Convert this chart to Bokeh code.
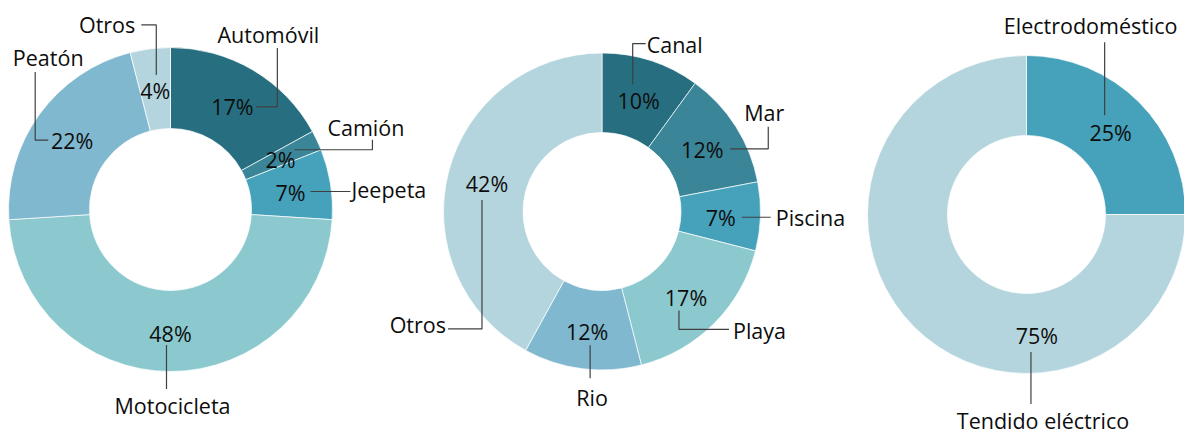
import math
from bokeh.plotting import figure
from bokeh.models import Range1d, ColumnDataSource
from bokeh.core.properties import value
from bokeh.embed import file_html
from bokeh.resources import INLINE

# ---------------- data ----------------
cats1 = ["Automóvil", "Camión", "Jeepeta", "Motocicleta", "Peatón", "Otros"]
vals1 = [17, 2, 7, 48, 22, 4]

cats2 = ["Canal", "Mar", "Piscina", "Playa", "Rio", "Otros"]
vals2 = [10, 12, 7, 17, 12, 42]

cats3 = ["Electrodoméstico", "Tendido eléctrico"]
vals3 = [25, 75]

# ---------------- styles / layout ----------------
pal6 = ["#276F80", "#3A8597", "#46A1BA", "#8CC9CF", "#80B8CF", "#B5D5DE"]
pal2 = ["#46A1BA", "#B5D5DE"]

FONT = "Open Sans"
FSIZE = "21.5px"
TXT = "#0D0D0D"
LEAD = "#404040"

W, H = 1184, 434
charts = [
    dict(cats=cats1, vals=vals1, colors=pal6, center=(170, 209), r_out=162, r_in=81,
         pct_frac=[None] * 6,
         lab=[("center", 36, -72), ("left", 47, -32), ("left", 61, -3),
              ("center", 2, 72), ("center", -24, -83), ("right", -20, -66)],
         lead=[[(45, -59), (45, 0), (24, 0)],
               [(92, -20), (92, -10), (14, -10)],
               [(20, -1), (60, -1)],
               [(-4, 12), (-4, 56)],
               [(-24, 0), (-37, 0), (-37, -68)],
               [(-14, -66), (1, -66), (1, -16)]]),
    dict(cats=cats2, vals=vals2, colors=pal6, center=(601.5, 211), r_out=158.5, r_in=79,
         pct_frac=[None] * 6,
         lab=[("left", 8, -56), ("center", 62, -37), ("left", 55, 0),
              ("left", 47, 33), ("center", 5, 66), ("right", -41, 141)],
         lead=[[(7, -57), (-6, -57), (-6, -16)],
               [(66, -23), (66, -1), (28, -1)],
               [(21, 0), (50, 0)],
               [(-7, 13), (-7, 32), (43, 32)],
               [(3, 14), (3, 47)],
               [(-5, 16), (-5, 145), (-39, 145)]]),
    dict(cats=cats3, vals=vals3, colors=pal2, center=(1026, 214), r_out=159, r_in=79,
         pct_frac=[None, 0.486],
         lab=[("center", -20, -107), ("center", 6, 85)],
         lead=[[(-6, -90), (-6, -17)],
               [(-6, 17), (-6, 69)]]),
]

p = figure(width=W, height=H, output_backend="svg", toolbar_location=None,
           x_range=Range1d(0, W), y_range=Range1d(0, H),
           min_border=0)
p.axis.visible = False
p.grid.visible = False
p.outline_line_color = None
p.background_fill_color = "white"


def sy(y):
    return H - y


for ch in charts:
    vals = ch["vals"]
    tot = float(sum(vals))
    cx, cy = ch["center"]
    fr = [v / tot for v in vals]
    cum = [0.0]
    for f in fr:
        cum.append(cum[-1] + f)
    starts = [math.pi / 2 - 2 * math.pi * cum[i + 1] for i in range(len(vals))]
    ends = [math.pi / 2 - 2 * math.pi * cum[i] for i in range(len(vals))]
    src = ColumnDataSource(dict(start=starts, end=ends, color=ch["colors"]))
    p.annular_wedge(x=cx, y=sy(cy), inner_radius=ch["r_in"], outer_radius=ch["r_out"],
                    inner_radius_units="screen", outer_radius_units="screen",
                    start_angle="start", end_angle="end", fill_color="color",
                    line_color="white", line_width=0.7, direction="anticlock", source=src)
    rm = (ch["r_in"] + ch["r_out"]) / 2.0
    for i, cat in enumerate(ch["cats"]):
        fm = ch["pct_frac"][i]
        if fm is None:
            fm = (cum[i] + cum[i + 1]) / 2
        px = cx + rm * math.sin(2 * math.pi * fm)
        py = cy - rm * math.cos(2 * math.pi * fm) + 2
        pct = "%d%%" % round(100 * fr[i])
        p.text(x=[px], y=[sy(py)], text=[pct], text_align="center", text_baseline="middle",
               text_font=value(FONT), text_font_size=FSIZE, text_color=TXT)
        al, dx, dy = ch["lab"][i]
        p.text(x=[px + dx], y=[sy(py + dy)], text=[cat], text_align=al, text_baseline="middle",
               text_font=value(FONT), text_font_size=FSIZE, text_color=TXT)
        pts = ch["lead"][i]
        p.line(x=[px + a for a, b in pts], y=[sy(py + b) for a, b in pts],
               line_color=LEAD, line_width=1.2)

open("out.html", "w").write(file_html(p, INLINE))
